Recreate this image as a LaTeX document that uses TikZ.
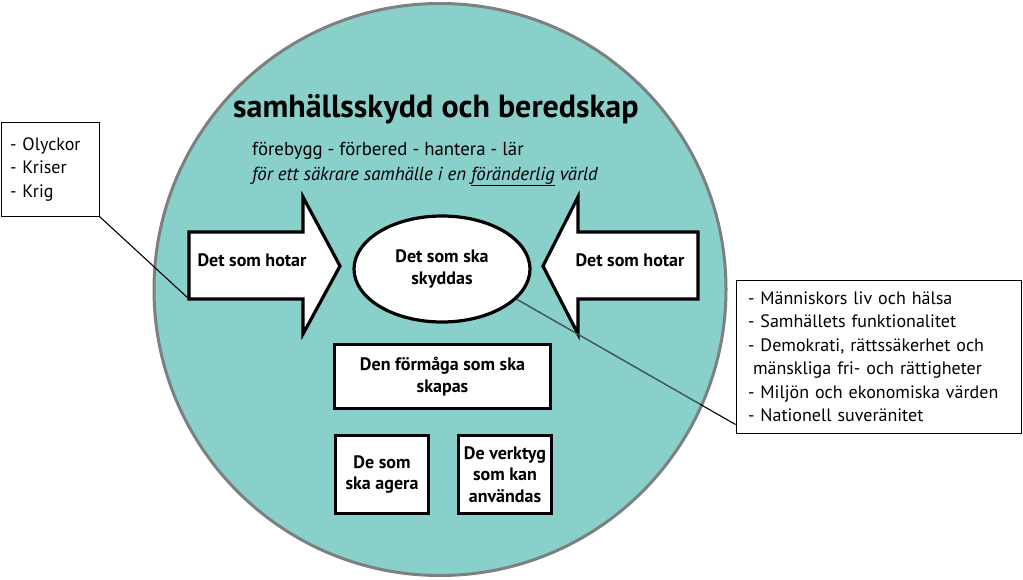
\documentclass[tikz,border=0pt]{standalone}
\usepackage{fontspec}
\setmainfont{PT Sans}
\usetikzlibrary{shapes.geometric,calc}
\definecolor{discfill}{RGB}{137,207,202}
\definecolor{discline}{RGB}{125,128,128}
\definecolor{linkgray}{RGB}{72,102,102}

\tikzset{
  box/.style={draw, line width=3.2pt, fill=white, align=center, inner sep=0pt,
    font=\bfseries\fontsize{18}{21.5}\selectfont},
  listbox/.style={draw, line width=1pt, fill=white, align=left,
    font=\fontsize{18}{23.5}\selectfont},
  threat/.style={draw, line width=3.2pt, fill=white, line join=miter},
  hot/.style={font=\bfseries\fontsize{18}{21.5}\selectfont, inner sep=0pt},
  link/.style={line width=1.1pt},
}

\begin{document}
\begin{tikzpicture}[x=1pt,y=-1pt]
  \useasboundingbox (0,0) rectangle (1023,579);
  % the disc
  \coordinate (C) at (440,289.5);
  \draw[discline, fill=discfill, line width=3pt] (C) circle (286pt);
  % heading
  \node[anchor=base west, inner sep=0pt, font=\bfseries\fontsize{32}{36}\selectfont] (title) at (233,117) {samhällsskydd och beredskap};
  \node[anchor=base west, inner sep=0pt, font=\fontsize{18.8}{22}\selectfont] (motto) at (252,155) {förebygg - förbered - hantera - lär};
  \node[anchor=base west, inner sep=0pt, font=\itshape\fontsize{18.8}{22}\selectfont] (aim) at (252,180) {för ett säkrare samhälle i en \underline{föränderlig} värld};
  % threat arrows
  \draw[threat] (189,232) -- (303,232) -- (303,197) -- (340,266) -- (303,334) -- (303,299) -- (189,299) -- cycle;
  \coordinate (lcorner) at (189,299);
  \node[hot] (lhot) at (252,260) {Det som hotar};
  \draw[threat] (698,232) -- (578,232) -- (578,197) -- (543,266) -- (578,334) -- (578,299) -- (698,299) -- cycle;
  \node[hot] (rhot) at (630,260) {Det som hotar};
  % what to protect
  \node[ellipse, box, minimum width=176pt, minimum height=106pt] (ell) at (442,269) {Det som ska\\skyddas};
  % capability boxes
  \node[box, minimum width=216pt, minimum height=64pt] (cap) at (442.5,376.5) {Den förmåga som ska\\skapas};
  \node[box, minimum width=93pt, minimum height=78pt] (act) at (382,474.5) {De som\\ska agera};
  \node[box, minimum width=93pt, minimum height=78pt] (tool) at (505,474.5) {De verktyg\\som kan\\användas};
  % side lists
  \node[listbox, text width=80pt, inner xsep=9pt, minimum height=94pt] (lbox) at (50,169) {- Olyckor\\- Kriser\\- Krig};
  \node[listbox, text width=261pt, inner xsep=12pt, minimum height=153pt] (rbox) at (878.5,356.5)
    {- Människors liv och hälsa\\- Samhällets funktionalitet\\- Demokrati, rättssäkerhet och\\\hspace{5pt}mänskliga fri- och rättigheter\\- Miljön och ekonomiska värden\\- Nationell suveränitet};
  % connectors
  \draw[link] (lbox.south east) -- (lcorner);
  \coordinate (rend) at ($(rbox.south west)+(0,-9)$);
  \draw[link] (ell.-22) -- (rend);
  \begin{scope}
    \clip (C) circle (284pt);
    \draw[link, linkgray] (ell.-22) -- (rend);
  \end{scope}
\end{tikzpicture}
\end{document}
